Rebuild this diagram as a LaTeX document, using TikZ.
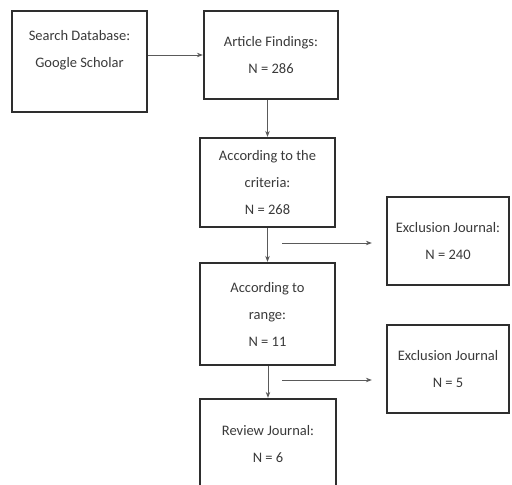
\documentclass[tikz,border=0pt]{standalone}
\usepackage{fontspec}
\setmainfont{Carlito}
\usetikzlibrary{arrows.meta}
\definecolor{boxline}{HTML}{2E2E2E}
\definecolor{boxtext}{HTML}{3A3A3A}
\definecolor{arrline}{HTML}{5A5A5A}
\tikzset{
  flowbox/.style = {draw = boxline, line width = 2.2pt, fill = white, align = center,
    text = boxtext, inner sep = 0pt, font = \fontsize{14.5}{27}\selectfont},
  flowarrow/.style = {draw = arrline, line width = 1pt, -{Stealth[length = 6pt, width = 4.5pt]}}
}
\begin{document}
\begin{tikzpicture}[x = 1pt, y = -1pt]
\useasboundingbox (0,0) rectangle (512,485);
\clip (0,0) rectangle (512,485);
% main column
\node[flowbox, minimum width = 135pt, minimum height = 101pt, text depth = 26pt] (search) at (79.5,61.5) {Search Database:\\Google Scholar};
\node[flowbox, minimum width = 134pt, minimum height = 88pt] (findings) at (271,55) {Article Findings:\\N = 286};
\node[flowbox, minimum width = 135pt, minimum height = 89pt] (criteria) at (267.5,182.5) {According to the\\criteria:\\N = 268};
\node[flowbox, minimum width = 135pt, minimum height = 102pt] (range) at (267.5,314) {According to\\range:\\N = 11};
\node[flowbox, minimum width = 136pt, minimum height = 91pt] (review) at (268,444.5) {Review Journal:\\N = 6};
% exclusions
\node[flowbox, minimum width = 122pt, minimum height = 88pt] (excla) at (448,241) {Exclusion Journal:\\N = 240};
\node[flowbox, minimum width = 122pt, minimum height = 88pt] (exclb) at (448,369) {Exclusion Journal\\N = 5};
\coordinate (cuta) at (282,243);
\coordinate (cutb) at (282,380);
% arrows
\draw[flowarrow] (search.east |- findings) -- (findings);
\draw[flowarrow] (findings.south -| criteria) -- (criteria);
\draw[flowarrow] (criteria.south -| range) -- (range);
\draw[flowarrow] (range.south -| review) -- (review);
\draw[flowarrow, shorten > = 14pt] (cuta) -- (cuta -| excla.west);
\draw[flowarrow, shorten > = 14pt] (cutb) -- (cutb -| exclb.west);
\end{tikzpicture}
\end{document}
